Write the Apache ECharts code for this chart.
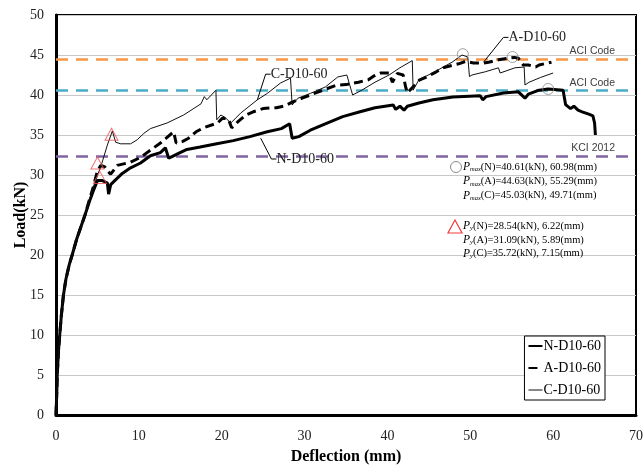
<!DOCTYPE html>
<html lang="en">
<head>
    <meta charset="UTF-8">
    <title>Load - Deflection</title>
    <script src="https://cdn.jsdelivr.net/npm/echarts@6/dist/echarts.min.js"></script>
    <style>
        html, body { margin: 0; padding: 0; background: #fff; }
        #chart { width: 644px; height: 467px; }
    </style>
</head>
<body>
<div id="chart"></div>
<script type="text/javascript">
    // deflection (mm), load (kN)
    const nCurve = [[0, 0], [0.1, 3], [0.15, 5], [0.3, 8], [0.45, 10], [0.65, 12.5], [0.9, 15], [1.2, 17], [1.6, 18.8],
        [1.95, 20], [2.5, 22], [3.0, 23.5], [3.5, 25], [4.0, 26.6], [4.5, 28.0], [5.0, 29.3], [5.6, 29.3], [6.2, 29.0],
        [6.35, 27.6], [6.6, 28.8], [7.0, 29.2], [8.0, 30.2], [9.0, 30.9], [10.2, 31.5], [11.4, 32.4], [12.6, 32.8],
        [13.2, 33.4], [13.6, 32.1], [14.0, 32.3], [14.6, 32.6], [15.8, 33.2], [17.4, 33.5], [19.4, 33.9], [21.4, 34.3],
        [23.4, 34.8], [25.5, 35.4], [27.2, 35.8], [28.2, 36.4], [28.5, 34.6], [29.3, 34.8], [30.7, 35.6], [32.5, 36.4],
        [34.6, 37.3], [36.7, 37.9], [38.5, 38.4], [40.7, 38.75], [41.0, 38.2], [41.5, 38.6], [42.0, 38.1], [42.4, 38.6],
        [43.8, 39.0], [45.5, 39.4], [47.9, 39.75], [51.2, 39.9], [51.5, 39.4], [51.9, 39.8], [54.0, 40.25], [55.8, 40.4],
        [56.6, 39.6], [57.0, 40.1], [58.3, 40.6], [59.4, 40.75], [61.2, 40.6], [61.5, 38.8], [62.1, 38.3], [62.5, 38.6],
        [63.0, 38.1], [63.5, 37.9], [64.3, 37.6], [64.8, 37.4], [65.0, 36.5], [65.1, 35.0]];

    const aCurve = [[0, 0], [0.1, 3], [0.15, 5], [0.3, 8], [0.45, 10], [0.65, 12.5], [0.9, 15], [1.2, 17], [1.6, 18.8],
        [1.95, 20], [2.5, 22], [3.0, 23.5], [3.5, 25], [4.0, 26.8], [4.5, 28.5], [5.0, 30.5], [5.4, 31.2], [5.9, 31.0],
        [6.3, 30.4], [6.6, 30.1], [7.4, 31.2], [9.0, 31.6], [10.2, 32.2], [11.8, 33.4], [12.6, 34.0], [13.4, 34.7],
        [14.2, 35.4], [14.5, 34.0], [15.3, 34.2], [16.0, 34.6], [16.9, 35.4], [17.8, 35.9], [19.5, 36.5], [20.1, 37.1],
        [20.8, 37.0], [21.2, 35.9], [22.0, 36.7], [22.9, 37.5], [23.8, 37.9], [25.0, 38.3], [25.9, 38.4], [26.6, 38.4],
        [27.5, 38.6], [28.5, 39.1], [29.7, 39.6], [30.7, 40.0], [32.2, 40.6], [33.8, 41.2], [35.0, 41.3], [36.5, 41.6],
        [37.7, 41.9], [38.4, 42.4], [39.2, 42.75], [40.2, 42.75], [40.6, 41.6], [41.2, 42.7], [41.9, 42.5], [42.2, 41.0],
        [42.4, 40.25], [43.3, 41.25], [43.9, 41.9], [44.7, 42.25], [45.9, 42.9], [46.7, 43.4], [48.0, 43.75], [48.6, 43.9],
        [49.4, 44.2], [50.4, 44.0], [51.6, 44.0], [52.2, 44.1], [53.4, 44.4], [54.7, 44.6], [55.3, 44.7], [55.8, 44.6],
        [56.4, 43.75], [57.0, 43.75], [57.9, 43.5], [58.3, 43.75], [59.8, 44.1]];

    const cCurve = [[0, 0], [0.1, 3], [0.15, 5], [0.3, 8], [0.45, 10], [0.65, 12.5], [0.9, 15], [1.2, 17], [1.6, 18.8],
        [1.95, 20], [2.5, 22], [3.0, 23.5], [3.5, 25], [4.0, 26.8], [4.5, 28.5], [5.0, 30.0], [5.4, 31.0], [6.2, 33.75],
        [6.8, 35.5], [7.2, 34.1], [7.8, 33.9], [9.0, 33.9], [9.8, 34.4], [10.6, 35.2], [11.4, 35.8], [13.4, 36.5],
        [15.4, 37.5], [17.5, 38.9], [17.9, 39.8], [18.2, 39.4], [19.3, 40.6], [19.4, 36.9], [19.9, 37.5], [20.4, 37.2],
        [21.1, 36.5], [22.3, 37.75], [24.3, 39.4], [25.5, 40.2], [27.1, 41.5], [28.3, 42.1], [28.5, 38.75], [29.2, 39.6],
        [30.7, 40.2], [32.5, 41.0], [34.0, 42.25], [35.1, 42.5], [35.8, 40.0], [36.9, 40.6], [38.5, 41.6], [40.2, 42.5],
        [41.5, 43.4], [43.0, 44.3], [43.1, 40.6], [43.8, 41.9], [45.7, 42.9], [47.8, 44.1], [49.0, 45.0], [49.7, 44.75],
        [49.9, 42.3], [50.2, 42.5], [51.8, 42.9], [53.4, 43.4], [53.6, 42.75], [55.4, 43.4], [56.5, 43.5], [56.6, 41.25],
        [57.1, 41.6], [58.5, 42.2], [60.0, 42.75]];

    const seriesNames = ["N-D10-60", "A-D10-60", "C-D10-60"];
    const pmaxPoints = [[59.4, 40.75], [55.1, 44.75], [49.1, 45.1]];
    const yieldPoints = [[5.3, 29.7], [5.0, 31.5], [6.7, 35.1]];
    const codeLevels = [44.5, 40.6, 32.4];
    const codeNames = ["ACI Code", "ACI Code", "KCI 2012"];
    const codeColors = ["#f79646", "#4bacc6", "#8064a2"];
    const pmaxText = [["N", "40.61", "60.98"], ["A", "44.63", "55.29"], ["C", "45.03", "49.71"]];
    const pyText = [["N", "28.54", "6.22"], ["A", "31.09", "5.89"], ["C", "35.72", "7.15"]];
    // curve name tags: point on the curve, then where the text sits
    const curveTags = [
        {name: "A-D10-60", from: [51.6, 44.1], to: [54.0, 47.2]},
        {name: "C-D10-60", from: [24.3, 39.4], to: [25.3, 42.6]},
        {name: "N-D10-60", from: [24.7, 34.6], to: [26.0, 32.0]}
    ];

    const serif = "Liberation Serif";
    const chart = echarts.init(document.getElementById("chart"));

    const option = {
        animation: false,
        backgroundColor: "#fff",
        grid: {
            left: 56, right: 8, top: 15, bottom: 52,
            outerBoundsMode: "none",
            show: true, borderColor: "#000", borderWidth: 2
        },
        legend: {
            data: [
                {name: seriesNames[0]},
                {name: seriesNames[1]},
                {name: seriesNames[2], lineStyle: {width: 1}}
            ],
            orient: "vertical",
            right: 39, bottom: 67,
            itemWidth: 14, itemHeight: 14, itemGap: 8,
            padding: [3, 4, 3, 3],
            borderColor: "#000", borderWidth: 1,
            backgroundColor: "#fff",
            itemStyle: {opacity: 0},
            textStyle: {fontFamily: serif, fontSize: 14, color: "#000", padding: [0, 0, 0, -4]}
        },
        xAxis: {
            type: "value", min: 0, max: 70, interval: 10,
            name: "Deflection (mm)", nameLocation: "middle", nameGap: 34, nameMoveOverlap: false,
            nameTextStyle: {fontFamily: serif, fontWeight: "bold", fontSize: 16, color: "#000"},
            axisLine: {show: true, lineStyle: {color: "#000", width: 3}},
            axisTick: {show: false},
            axisLabel: {fontFamily: serif, fontSize: 14, color: "#222", margin: 14},
            splitLine: {show: false}
        },
        yAxis: {
            type: "value", min: 0, max: 50, interval: 5,
            name: "Load(kN)", nameLocation: "middle", nameGap: 27, nameRotate: 90, nameMoveOverlap: false,
            nameTextStyle: {fontFamily: serif, fontWeight: "bold", fontSize: 16, color: "#000"},
            axisLine: {show: true, lineStyle: {color: "#000", width: 3}},
            axisTick: {show: false},
            axisLabel: {fontFamily: serif, fontSize: 14, color: "#222", margin: 12},
            splitLine: {show: true, lineStyle: {color: "#c8c8c8", width: 1}}
        },
        series: [
            {
                name: seriesNames[0], type: "line", data: nCurve, symbol: "none",
                lineStyle: {color: "#000", width: 3}, itemStyle: {color: "#000"}, z: 5
            },
            {
                name: seriesNames[1], type: "line", data: aCurve, symbol: "none",
                lineStyle: {color: "#000", width: 3, type: [9, 5]}, itemStyle: {color: "#000"}, z: 5
            },
            {
                name: seriesNames[2], type: "line", data: cCurve, symbol: "none",
                lineStyle: {color: "#111", width: 1}, itemStyle: {color: "#111"}, z: 5
            },
            {
                name: "Pmax", type: "scatter", data: pmaxPoints, symbol: "circle", symbolSize: 11,
                itemStyle: {color: "rgba(255,255,255,0)", borderColor: "#8a8a8a", borderWidth: 1}, z: 6,
                markLine: {
                    silent: true, symbol: "none",
                    data: codeLevels.map((v, i) => ({
                        yAxis: v,
                        lineStyle: {color: codeColors[i], width: 2.5, type: [12, 8]},
                        label: {
                            show: true, formatter: codeNames[i], position: "insideEndTop",
                            fontFamily: "Liberation Sans", fontSize: 10.5, color: "#404040",
                            distance: 2, padding: [0, 19, 0, 0]
                        }
                    }))
                }
            },
            {
                name: "Py", type: "scatter", data: yieldPoints, symbol: "triangle", symbolSize: [13, 12],
                itemStyle: {color: "rgba(255,255,255,0)", borderColor: "#f05050", borderWidth: 1}, z: 6
            }
        ]
    };
    chart.setOption(option);

    // text tags with leader lines, and the notes block
    const graphics = [];
    curveTags.forEach((tag) => {
        const p0 = chart.convertToPixel({gridIndex: 0}, tag.from);
        const p1 = chart.convertToPixel({gridIndex: 0}, tag.to);
        graphics.push({
            type: "polyline", z: 20,
            shape: {points: [p0, p1, [p1[0] + 5, p1[1]]]},
            style: {stroke: "#000", lineWidth: 1, fill: null}
        });
        graphics.push({
            type: "text", z: 20, x: p1[0] + 5, y: p1[1],
            style: {
                text: tag.name, font: "14px " + serif, fill: "#222",
                verticalAlign: "middle", align: "left"
            }
        });
    });

    const noteRich = {
        p: {fontFamily: serif, fontStyle: "italic", fontSize: 11.5, color: "#404040"},
        s: {fontFamily: serif, fontStyle: "italic", fontSize: 6.5, color: "#404040", padding: [5, 0, 0, 0]},
        t: {fontFamily: serif, fontSize: 10.5, color: "#404040"}
    };
    pmaxText.forEach((r, i) => {
        graphics.push({
            type: "text", z: 20, x: 463, y: 167 + i * 14.3,
            style: {
                text: "{p|P}{s|max}{t|(" + r[0] + ")=" + r[1] + "(kN), " + r[2] + "(mm)}",
                rich: noteRich, verticalAlign: "middle"
            }
        });
    });
    pyText.forEach((r, i) => {
        graphics.push({
            type: "text", z: 20, x: 463, y: 226 + i * 13.8,
            style: {
                text: "{p|P}{s|y}{t|(" + r[0] + ")=" + r[1] + "(kN), " + r[2] + "(mm)}",
                rich: noteRich, verticalAlign: "middle"
            }
        });
    });
    graphics.push({
        type: "circle", z: 20, shape: {cx: 456, cy: 167, r: 5.5},
        style: {fill: "#fff", stroke: "#8a8a8a", lineWidth: 1}
    });
    graphics.push({
        type: "polygon", z: 20, shape: {points: [[455, 220], [448, 233], [462, 233]]},
        style: {fill: "#fff", stroke: "#f03c3c", lineWidth: 1.2}
    });
    chart.setOption({graphic: graphics});
</script>
</body>
</html>
